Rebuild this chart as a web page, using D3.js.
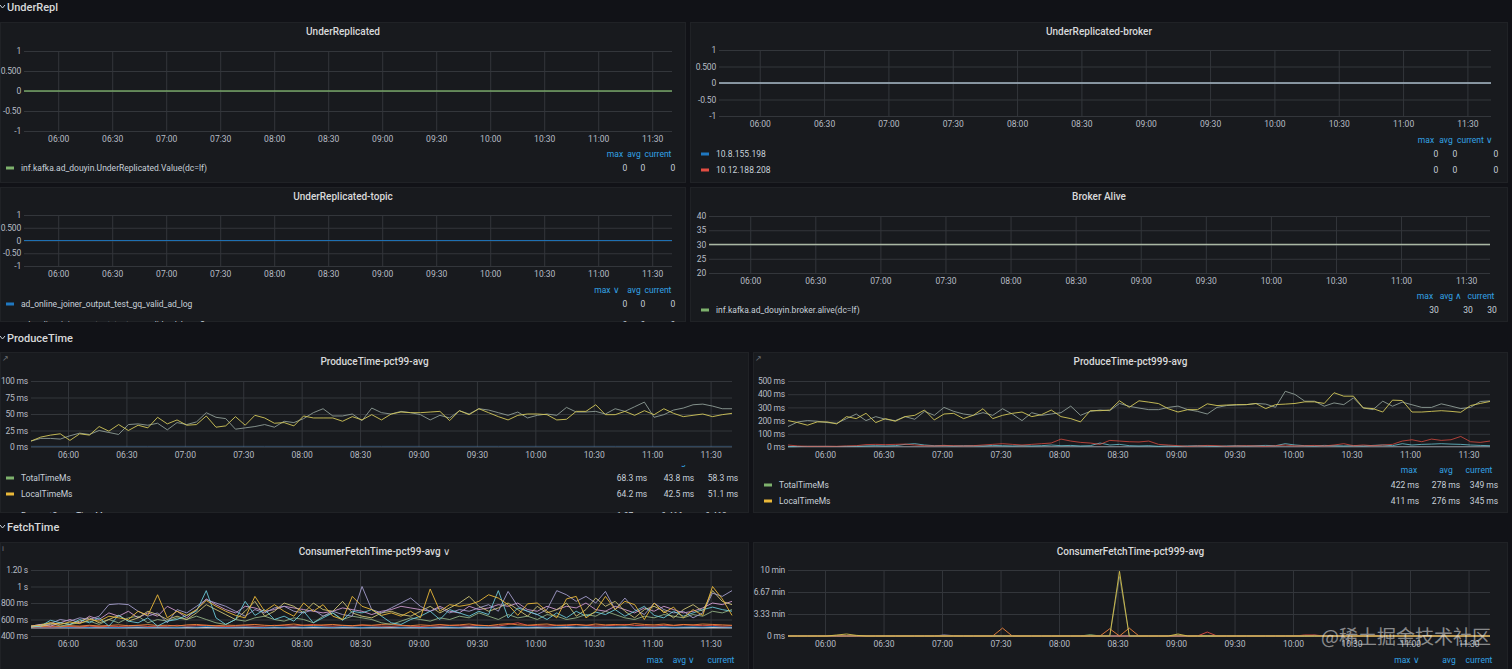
<!DOCTYPE html>
<html>
<head>
<meta charset="utf-8">
<script src="https://cdn.jsdelivr.net/npm/d3@7"></script>
<style>
	html, body { margin: 0; padding: 0; background: #111217; overflow: hidden; }
	svg { display: block; }
</style>
</head>
<body>
<div id="dash"></div>
<script>
// ---- data ----
const xTickLabels = ["06:00", "06:30", "07:00", "07:30", "08:00", "08:30", "09:00", "09:30", "10:00", "10:30", "11:00", "11:30"];
const flatTimeLabels = ["05:41", "06:41", "07:41", "08:41", "09:41", "10:41", "11:41"];

const underReplicatedValue = [0, 0, 0, 0, 0, 0, 0];
const brokerA = [0, 0, 0, 0, 0, 0, 0];
const brokerB = [0, 0, 0, 0, 0, 0, 0];
const topicValue = [0, 0, 0, 0, 0, 0, 0];
const brokerAlive = [30, 30, 30, 30, 30, 30, 30];

// ProduceTime pct99 (ms), 5 minute steps from 05:41
const p99Total = [
	9, 13, 13, 12, 17, 21, 19, 25, 22, 19,
	34, 35, 33, 36, 26, 37, 34, 38, 52, 45,
	43, 27, 29, 31, 34, 30, 39, 37, 43, 52,
	58, 47, 47, 50, 40, 59, 52, 50, 54, 52,
	49, 41, 48, 44, 55, 50, 58, 56, 52, 48,
	53, 44, 48, 50, 48, 60, 53, 53, 54, 50,
	58, 54, 61, 68, 45, 49, 56, 59, 64, 65,
	62, 58, 58];
const p99Local = [
	9, 15, 18, 20, 10, 20, 18, 31, 24, 34,
	25, 33, 29, 45, 35, 41, 33, 34, 47, 30,
	32, 46, 33, 48, 44, 36, 37, 32, 47, 44,
	44, 44, 39, 46, 41, 49, 41, 50, 53, 52,
	52, 53, 54, 40, 55, 49, 58, 52, 46, 41,
	48, 50, 50, 49, 41, 42, 54, 54, 64, 49,
	49, 54, 48, 55, 49, 58, 51, 46, 48, 50,
	46, 49, 51];
const p99Queue = [1, 1, 1, 1, 1, 1, 1];

// ProduceTime pct999 (ms)
const p999Total = [
	155, 190, 200, 195, 185, 180, 215, 250, 200, 230,
	210, 200, 230, 210, 270, 240, 300, 270, 250, 240,
	260, 240, 290, 250, 200, 260, 240, 250, 260, 310,
	240, 270, 280, 275, 330, 308, 295, 283, 283, 300,
	310, 283, 270, 250, 300, 314, 318, 321, 330, 325,
	301, 422, 398, 347, 347, 309, 334, 321, 372, 296,
	283, 347, 309, 340, 320, 300, 300, 327, 310, 291,
	300, 345, 349];
const p999Local = [
	200, 185, 165, 190, 190, 175, 230, 215, 255, 185,
	215, 195, 230, 240, 280, 205, 250, 255, 215, 240,
	290, 215, 240, 255, 265, 230, 245, 280, 230, 215,
	190, 275, 275, 280, 350, 301, 350, 340, 329, 290,
	265, 283, 283, 327, 314, 318, 321, 321, 329, 291,
	321, 325, 330, 342, 342, 330, 411, 385, 385, 296,
	291, 265, 355, 352, 265, 265, 270, 275, 270, 263,
	314, 330, 345];
const p999Queue = [
	15, 8, 5, 5, 5, 5, 8, 10, 18, 20,
	18, 20, 22, 15, 10, 8, 12, 10, 8, 10,
	15, 20, 25, 20, 15, 20, 25, 30, 60, 45,
	35, 30, 20, 50, 45, 40, 38, 45, 20, 15,
	10, 5, 8, 12, 10, 5, 8, 10, 8, 5,
	10, 15, 8, 10, 12, 8, 15, 25, 10, 15,
	10, 15, 20, 45, 55, 40, 60, 50, 55, 80,
	40, 35, 45];
const p999Remote = [
	2, 3, 5, 5, 5, 4, 5, 5, 8, 10,
	8, 10, 20, 25, 15, 10, 12, 8, 10, 10,
	8, 12, 10, 8, 10, 8, 10, 15, 10, 12,
	8, 10, 30, 15, 20, 10, 8, 10, 5, 8,
	5, 8, 10, 8, 5, 8, 10, 8, 10, 12,
	10, 25, 15, 10, 8, 12, 10, 8, 10, 8,
	12, 15, 10, 25, 15, 20, 22, 25, 22, 20,
	15, 12, 10];
const p999Other = [3, 3, 3, 3, 3, 3, 3];

// ConsumerFetchTime pct99 (ms)
const f99A = [
	520, 530, 560, 540, 570, 550, 600, 580, 640, 620,
	600, 700, 650, 900, 620, 700, 650, 720, 830, 760,
	700, 650, 620, 880, 700, 780, 700, 640, 800, 700,
	780, 640, 600, 880, 760, 720, 650, 680, 640, 700,
	620, 970, 700, 780, 760, 780, 820, 900, 860, 780,
	650, 790, 800, 700, 620, 850, 880, 620, 700, 880,
	720, 820, 780, 600, 800, 680, 750, 620, 720, 650,
	1000, 850, 650];
const f99B = [
	510, 520, 590, 560, 540, 600, 560, 620, 520, 650,
	580, 560, 620, 520, 580, 600, 650, 700, 950, 620,
	540, 600, 820, 650, 720, 600, 640, 580, 700, 560,
	620, 680, 590, 700, 680, 720, 640, 560, 540, 600,
	640, 700, 600, 720, 680, 640, 700, 660, 950, 620,
	740, 700, 660, 600, 680, 620, 700, 640, 690, 660,
	720, 640, 700, 760, 650, 620, 700, 640, 680, 720,
	750, 720, 700];
const f99C = [
	510, 530, 550, 600, 580, 620, 600, 640, 780, 790,
	780, 700, 640, 680, 560, 720, 680, 760, 840, 800,
	760, 700, 640, 720, 680, 740, 760, 700, 680, 720,
	640, 700, 660, 640, 1000, 720, 680, 740, 800, 860,
	760, 700, 740, 680, 720, 700, 740, 780, 700, 940,
	760, 700, 660, 720, 950, 900, 820, 880, 800, 940,
	720, 860, 720, 660, 800, 720, 680, 700, 620, 680,
	920, 880, 950];
const f99D = [
	520, 540, 520, 560, 600, 560, 640, 600, 680, 640,
	700, 620, 680, 640, 760, 700, 620, 720, 850, 780,
	720, 680, 760, 740, 700, 720, 760, 740, 720, 700,
	680, 700, 740, 720, 700, 660, 700, 720, 760, 740,
	720, 700, 760, 700, 680, 760, 720, 740, 780, 760,
	800, 720, 700, 760, 720, 760, 740, 800, 720, 700,
	760, 720, 680, 740, 700, 760, 720, 680, 700, 740,
	800, 780, 820];
const f99E = [
	510, 520, 540, 560, 540, 580, 620, 560, 600, 650,
	580, 620, 700, 660, 600, 640, 600, 680, 780, 720,
	660, 600, 700, 820, 640, 700, 800, 760, 680, 800,
	720, 700, 820, 680, 640, 620, 680, 700, 660, 640,
	700, 760, 680, 740, 800, 880, 760, 700, 740, 800,
	720, 640, 760, 680, 720, 800, 640, 720, 860, 760,
	820, 700, 620, 720, 760, 700, 620, 720, 780, 700,
	950, 820, 780];
const f99F = [
	520, 540, 560, 520, 540, 560, 580, 540, 600, 560,
	620, 640, 560, 600, 580, 620, 600, 640, 600, 560,
	540, 600, 580, 620, 640, 600, 580, 620, 600, 560,
	640, 680, 600, 640, 620, 600, 560, 540, 580, 620,
	600, 580, 620, 600, 640, 620, 680, 640, 600, 660,
	620, 640, 600, 660, 640, 600, 620, 660, 640, 700,
	660, 620, 600, 640, 620, 660, 640, 620, 660, 640,
	700, 680, 720];
const f99G = [
	505, 510, 508, 512, 515, 510, 520, 512, 518, 515,
	520, 525, 515, 520, 518, 530, 520, 525, 530, 520,
	515, 520, 525, 518, 520, 530, 525, 520, 530, 540,
	525, 520, 528, 522, 530, 525, 520, 518, 525, 520,
	515, 522, 520, 528, 525, 520, 530, 525, 520, 540,
	560, 530, 525, 520, 530, 525, 535, 530, 520, 525,
	530, 540, 528, 525, 520, 530, 525, 535, 530, 525,
	530, 520, 525];
const f99H = [
	512, 515, 520, 518, 525, 520, 530, 522, 528, 535,
	525, 530, 538, 528, 530, 520, 535, 540, 530, 525,
	532, 528, 535, 540, 530, 525, 535, 545, 530, 528,
	535, 540, 530, 525, 535, 530, 540, 545, 530, 525,
	535, 528, 540, 530, 535, 545, 530, 525, 540, 550,
	535, 530, 540, 545, 530, 535, 540, 530, 545, 535,
	540, 530, 550, 540, 535, 545, 530, 540, 535, 545,
	540, 535, 530];
const f99I = [
	502, 505, 503, 506, 504, 508, 505, 510, 506, 504,
	508, 512, 506, 510, 508, 505, 512, 508, 515, 510,
	506, 509, 512, 508, 505, 510, 506, 512, 508, 515,
	510, 506, 512, 509, 505, 510, 508, 512, 506, 510,
	508, 505, 512, 510, 506, 515, 510, 508, 512, 506,
	510, 508, 512, 506, 510, 515, 508, 512, 506, 510,
	508, 512, 506, 510, 508, 512, 506, 510, 512, 508,
	515, 510, 508];
const f99J = [500, 500, 500, 500, 500, 500, 500];

// ConsumerFetchTime pct999 (minutes)
const f999Yellow = [
	0, 0, 0, 0, 0, 0.15, 0.3, 0.1, 0, 0,
	0, 0, 0, 0, 0, 0, 0, 0, 0, 0,
	0, 0, 0, 0, 0, 0, 0, 0, 0, 0,
	0, 0, 0, 0, 9.8, 0, 0, 0, 0, 0,
	0.3, 0, 0, 0, 0, 0, 0, 0, 0, 0,
	0, 0, 0, 0, 0, 0, 0, 0, 0, 0,
	0, 0, 0, 0, 0, 0, 0, 0, 0, 0,
	0, 0, 0];
const f999Orange = [
	0, 0, 0, 0, 0, 0, 0, 0, 0, 0,
	0, 0, 0, 0, 0, 0, 0, 0, 0, 0,
	0, 0, 1.2, 0, 0, 0, 0, 0, 0, 0,
	0, 0, 0, 1.1, 0, 1.2, 0, 0, 0, 0,
	0, 0, 0, 0, 0, 0, 0, 0, 0, 0,
	0, 0, 0, 0, 0, 0, 0, 0, 0, 0,
	0, 0, 0, 0, 0, 0, 0, 0, 0, 0,
	0, 0, 0];
const f999Red = [
	0, 0, 0, 0, 0, 0, 0, 0, 0, 0,
	0, 0, 0, 0, 0, 0, 0, 0, 0, 0,
	0, 0, 0, 0, 0, 0, 0, 0, 0, 0,
	0, 0, 0, 0, 0, 0, 0, 0, 0, 0,
	0, 0, 0, 0.6, 0, 0, 0, 0, 0, 0,
	0, 0, 0, 0.15, 0.15, 0, 0, 0, 0, 0,
	0, 0, 0, 0, 0, 0, 0, 0, 0, 0,
	0, 0, 0];
const f999Green = [
	0, 0, 0, 0, 0, 0, 0, 0, 0, 0,
	0, 0, 0, 0, 0, 0, 0, 0, 0, 0,
	0, 0, 0, 0, 0, 0, 0, 0, 0, 0,
	0, 0.2, 0, 0, 0, 0, 0, 0, 0, 0,
	0.1, 0, 0, 0, 0, 0, 0, 0, 0, 0,
	0, 0, 0, 0, 0, 0, 0, 0, 0, 0,
	0, 0, 0, 0, 0, 0, 0, 0, 0, 0,
	0, 0, 0];
const f999Purple = [
	0, 0, 0, 0, 0, 0, 0, 0, 0, 0,
	0, 0, 0, 0, 0, 0, 0.15, 0.05, 0, 0,
	0, 0, 0, 0, 0, 0, 0, 0, 0, 0,
	0, 0, 0, 0, 0, 0, 0, 0, 0, 0,
	0, 0, 0, 0, 0, 0, 0, 0, 0, 0,
	0, 0, 0, 0, 0.1, 0, 0, 0, 0, 0,
	0, 0, 0, 0, 0, 0, 0, 0, 0, 0,
	0, 0, 0];
const f999Gray = [
	0, 0, 0, 0, 0, 0, 0, 0, 0, 0,
	0, 0, 0, 0, 0, 0, 0, 0, 0, 0,
	0, 0, 0, 0, 0, 0, 0, 0, 0, 0,
	0, 0, 0, 0, 9.0, 0, 0, 0, 0, 0,
	0, 0, 0, 0, 0, 0, 0, 0, 0, 0,
	0, 0, 0, 0, 0, 0, 0, 0, 0, 0,
	0, 0, 0, 0, 0, 0, 0, 0, 0, 0,
	0, 0, 0];
const f999Blue = [0, 0, 0, 0, 0, 0, 0];

// legend stats
const underReplStats = [["0", "0", "0"]];
const brokerStats = [["0", "0", "0"], ["0", "0", "0"]];
const topicStats = [["0", "0", "0"], ["0", "0", "0"]];
const aliveStats = [["30", "30", "30"]];
const p99Stats = [["68.3 ms", "43.8 ms", "58.3 ms"], ["64.2 ms", "42.5 ms", "51.1 ms"], ["1.07 ms", "0.416 ms", "0.413 ms"]];
const p999Stats = [["422 ms", "278 ms", "349 ms"], ["411 ms", "276 ms", "345 ms"]];

// ---- drawing ----
const W = 1512, H = 669;
const font = "Roboto, 'Noto Sans', sans-serif";
const gridColor = "#33363b";
const tickColor = "#b7bcc4";
const textColor = "#c7d0d9";
const linkColor = "#33a2e5";

const parseHM = d3.timeParse("%H:%M");
const fmtHM = d3.timeFormat("%H:%M");
const t0 = parseHM("05:41");
const times = d3.range(73).map((i) => d3.timeMinute.offset(t0, i * 5));
const flatTimes = flatTimeLabels.map(parseHM);
const xTicks = xTickLabels.map(parseHM);
const timeDomain = [parseHM("05:41"), parseHM("11:41")];

const svg = d3
	.select("#dash")
	.append("svg")
	.attr("width", W)
	.attr("height", H)
	.attr("font-family", font);

let clipCount = 0;

function rowHeader(label, y) {
	svg.append("path")
		.attr("d", `M0,${y - 2} L2.5,${y + 1} L5,${y - 2}`)
		.attr("fill", "none")
		.attr("stroke", "#c7d0d9")
		.attr("stroke-width", 1);
	svg.append("text")
		.attr("x", 7)
		.attr("y", y + 4)
		.attr("fill", "#d8d9da")
		.attr("font-size", 11)
		.attr("font-weight", 500)
		.text(label);
}

function drawPanel(p) {
	const id = "clip" + clipCount++;
	svg.append("clipPath")
		.attr("id", id)
		.append("rect")
		.attr("x", p.x)
		.attr("y", p.y)
		.attr("width", p.w)
		.attr("height", p.h);

	const g = svg.append("g").attr("clip-path", `url(#${id})`);

	g.append("rect")
		.attr("x", p.x + 0.5)
		.attr("y", p.y + 0.5)
		.attr("width", p.w - 1)
		.attr("height", p.h - 1)
		.attr("fill", "#181a1e")
		.attr("stroke", "#202226");

	g.append("text")
		.attr("x", p.x + p.w / 2)
		.attr("y", p.y + 12.5)
		.attr("text-anchor", "middle")
		.attr("fill", "#d8d9da")
		.attr("font-size", 10)
		.attr("font-weight", 500)
		.text(p.title);

	if (p.icon) {
		g.append("text")
			.attr("x", p.x + 2)
			.attr("y", p.y + 9)
			.attr("fill", "#6e7278")
			.attr("font-size", 8)
			.text(p.icon);
	}

	const x = d3.scaleTime().domain(timeDomain).range([p.l, p.r]);
	const y = d3.scaleLinear().domain(p.yDomain).range([p.b, p.t]);

	const xAxis = g
		.append("g")
		.attr("transform", `translate(0,${p.b})`)
		.call(
			d3
				.axisBottom(x)
				.tickValues(xTicks)
				.tickFormat(fmtHM)
				.tickSize(-(p.b - p.t))
				.tickPadding(5)
		);

	const yAxis = g
		.append("g")
		.attr("transform", `translate(${p.l},0)`)
		.call(
			d3
				.axisLeft(y)
				.tickValues(p.yTicks)
				.tickFormat((d, i) => p.yLabels[i])
				.tickSize(-(p.r - p.l))
				.tickPadding(3)
		);

	[xAxis, yAxis].forEach((a) => {
		a.attr("font-family", font).attr("font-size", 8.5);
		a.select(".domain").remove();
		a.selectAll(".tick line").attr("stroke", gridColor);
		a.selectAll(".tick text").attr("fill", tickColor);
	});
	yAxis.selectAll(".tick text").attr("letter-spacing", -0.2);

	const line = d3
		.line()
		.x((d) => x(d[0]))
		.y((d) => y(d[1]));

	p.series.forEach((s) => {
		const pts = s.values.map((v, i) => [s.times[i], v]);
		g.append("path")
			.datum(pts)
			.attr("d", line)
			.attr("fill", "none")
			.attr("stroke", s.color)
			.attr("stroke-width", s.width || 1)
			.attr("stroke-opacity", s.opacity || 0.9);
	});

	// legend
	const lg = g.append("g");
	if (p.legendClipTop) {
		const lid = "clip" + clipCount++;
		svg.append("clipPath")
			.attr("id", lid)
			.append("rect")
			.attr("x", p.x)
			.attr("y", p.legendClipTop)
			.attr("width", p.w)
			.attr("height", p.y + p.h - p.legendClipTop);
		lg.attr("clip-path", `url(#${lid})`);
	}

	p.header.items.forEach((h) => {
		lg.append("text")
			.attr("x", h[1])
			.attr("y", p.header.y + 3)
			.attr("text-anchor", "middle")
			.attr("fill", linkColor)
			.attr("font-size", 8.5)
			.text(h[0]);
	});

	p.rows.forEach((r, ri) => {
		lg.append("rect")
			.attr("x", p.swatchX)
			.attr("y", r.y - 1.5)
			.attr("width", 8)
			.attr("height", 3)
			.attr("fill", r.color);
		lg.append("text")
			.attr("x", p.swatchX + 15)
			.attr("y", r.y + 3)
			.attr("fill", textColor)
			.attr("font-size", 8.5)
			.text(r.name);
		p.stats[ri].forEach((v, vi) => {
			lg.append("text")
				.attr("x", p.valueX[vi])
				.attr("y", r.y + 3)
				.attr("text-anchor", "middle")
				.attr("fill", textColor)
				.attr("font-size", 8.5)
				.text(v);
		});
	});
}

const green = "#7EB26D", yellow = "#EAB839", lightBlue = "#6ED0E0", orange = "#EF843C",
	red = "#E24D42", blue = "#1F78C1", lavender = "#A39CCB", pink = "#E5A8E2", khaki = "#D7CD7A";

rowHeader("UnderRepl", 7);
rowHeader("ProduceTime", 338);
rowHeader("FetchTime", 527);

const unitTicks = [-1, -0.5, 0, 0.5, 1];
const unitLabels = ["-1", "-0.50", "0", "0.500", "1"];

drawPanel({
	x: 0, y: 22, w: 686, h: 161, title: "UnderReplicated",
	l: 24, r: 672, t: 51, b: 131,
	yDomain: [-1, 1], yTicks: unitTicks, yLabels: unitLabels,
	series: [{ times: flatTimes, values: underReplicatedValue, color: green, width: 1.5 }],
	header: { y: 154, items: [["max", 615], ["avg", 634], ["current", 658]] },
	swatchX: 6, valueX: [625, 643, 673],
	rows: [{ name: "inf.kafka.ad_douyin.UnderReplicated.Value(dc=lf)", color: green, y: 168 }],
	stats: underReplStats,
});

drawPanel({
	x: 690, y: 22, w: 818, h: 161, title: "UnderReplicated-broker",
	l: 719, r: 1491, t: 50, b: 116,
	yDomain: [-1, 1], yTicks: unitTicks, yLabels: unitLabels,
	series: [
		{ times: flatTimes, values: brokerA, color: blue },
		{ times: flatTimes, values: brokerB, color: "#b8b8b8", width: 1.5 },
	],
	header: { y: 140, items: [["max", 1426], ["avg", 1446], ["current ∨", 1475]] },
	swatchX: 701, valueX: [1436, 1455, 1496],
	rows: [
		{ name: "10.8.155.198", color: blue, y: 154 },
		{ name: "10.12.188.208", color: red, y: 170 },
	],
	stats: brokerStats,
});

drawPanel({
	x: 0, y: 187, w: 686, h: 135, title: "UnderReplicated-topic",
	l: 24, r: 672, t: 215, b: 266,
	yDomain: [-1, 1], yTicks: unitTicks, yLabels: unitLabels,
	series: [{ times: flatTimes, values: topicValue, color: blue, width: 1.2 }],
	header: { y: 290, items: [["max ∨", 607], ["avg", 634], ["current", 658]] },
	swatchX: 6, valueX: [625, 643, 673],
	rows: [
		{ name: "ad_online_joiner_output_test_gq_valid_ad_log", color: blue, y: 304 },
		{ name: "ad_online_joiner_output_test_gq_valid_ad_log_v2", color: yellow, y: 324.5 },
	],
	stats: topicStats,
});

drawPanel({
	x: 690, y: 187, w: 818, h: 135, title: "Broker Alive",
	l: 709, r: 1490, t: 216, b: 273,
	yDomain: [20, 40], yTicks: [20, 25, 30, 35, 40], yLabels: ["20", "25", "30", "35", "40"],
	series: [{ times: flatTimes, values: brokerAlive, color: "#b9c7b0", width: 1.3 }],
	header: { y: 296, items: [["max", 1425], ["avg ∧", 1451], ["current", 1481]] },
	swatchX: 701, valueX: [1434, 1468, 1492],
	rows: [{ name: "inf.kafka.ad_douyin.broker.alive(dc=lf)", color: green, y: 310 }],
	stats: aliveStats,
});

drawPanel({
	x: 0, y: 352, w: 749, h: 161, title: "ProduceTime-pct99-avg", icon: "↗",
	l: 31, r: 732, t: 381, b: 447,
	yDomain: [0, 100], yTicks: [0, 25, 50, 75, 100], yLabels: ["0 ms", "25 ms", "50 ms", "75 ms", "100 ms"],
	series: [
		{ times: flatTimes, values: p99Queue, color: "#4a7299", opacity: 0.6 },
		{ times: times, values: p99Total, color: "#8e9c96" },
		{ times: times, values: p99Local, color: "#d3c85a" },
	],
	legendClipTop: 465,
	header: { y: 462, items: [["max", 632], ["avg", 679], ["current", 723]] },
	swatchX: 6, valueX: [632, 679, 723],
	rows: [
		{ name: "TotalTimeMs", color: green, y: 478 },
		{ name: "LocalTimeMs", color: yellow, y: 494 },
		{ name: "RequestQueueTimeMs", color: lightBlue, y: 516 },
	],
	stats: p99Stats,
});

drawPanel({
	x: 753, y: 352, w: 755, h: 161, title: "ProduceTime-pct999-avg", icon: "↗",
	l: 788, r: 1490, t: 381, b: 447,
	yDomain: [0, 500], yTicks: [0, 100, 200, 300, 400, 500],
	yLabels: ["0 ms", "100 ms", "200 ms", "300 ms", "400 ms", "500 ms"],
	series: [
		{ times: flatTimes, values: p999Other, color: "#8a8f96" },
		{ times: times, values: p999Remote, color: lightBlue, opacity: 0.75 },
		{ times: times, values: p999Queue, color: red, opacity: 0.75 },
		{ times: times, values: p999Total, color: "#8e9c96" },
		{ times: times, values: p999Local, color: "#d3c85a" },
	],
	header: { y: 470, items: [["max", 1409], ["avg", 1446], ["current", 1479]] },
	swatchX: 764, valueX: [1405, 1446, 1484],
	rows: [
		{ name: "TotalTimeMs", color: green, y: 485 },
		{ name: "LocalTimeMs", color: yellow, y: 501 },
	],
	stats: p999Stats,
});

drawPanel({
	x: 0, y: 542, w: 749, h: 130, title: "ConsumerFetchTime-pct99-avg ∨", icon: "i",
	l: 31, r: 732, t: 570, b: 636,
	yDomain: [400, 1200], yTicks: [400, 600, 800, 1000, 1200],
	yLabels: ["400 ms", "600 ms", "800 ms", "1 s", "1.20 s"],
	series: [
		{ times: flatTimes, values: f99J, color: "#d8d9da", width: 1.5 },
		{ times: times, values: f99I, color: blue },
		{ times: times, values: f99G, color: red },
		{ times: times, values: f99H, color: orange },
		{ times: times, values: f99F, color: "#9fc08f", opacity: 0.8 },
		{ times: times, values: f99D, color: pink, opacity: 0.8 },
		{ times: times, values: f99E, color: khaki, opacity: 0.85 },
		{ times: times, values: f99C, color: lavender },
		{ times: times, values: f99B, color: lightBlue, opacity: 0.85 },
		{ times: times, values: f99A, color: yellow, opacity: 0.9 },
	],
	header: { y: 660, items: [["max", 655], ["avg ∨", 684], ["current", 721]] },
	swatchX: 6, valueX: [655, 684, 721],
	rows: [],
	stats: [],
});

drawPanel({
	x: 753, y: 542, w: 755, h: 130, title: "ConsumerFetchTime-pct999-avg",
	l: 788, r: 1490, t: 570, b: 636,
	yDomain: [0, 10], yTicks: [0, 10 / 3, 20 / 3, 10],
	yLabels: ["0 ms", "3.33 min", "6.67 min", "10 min"],
	series: [
		{ times: flatTimes, values: f999Blue, color: blue, width: 1.5 },
		{ times: times, values: f999Purple, color: lavender },
		{ times: times, values: f999Green, color: green },
		{ times: times, values: f999Red, color: red },
		{ times: times, values: f999Orange, color: orange },
		{ times: times, values: f999Gray, color: "#7d8a7a", opacity: 0.7 },
		{ times: times, values: f999Yellow, color: "#d6c24a" },
	],
	header: { y: 660, items: [["max ∨", 1407], ["avg", 1449], ["current", 1479]] },
	swatchX: 764, valueX: [1405, 1446, 1484],
	rows: [],
	stats: [],
});

// site watermark, drawn over the axis as in the screenshot
svg.append("text")
	.attr("x", 1491)
	.attr("y", 644)
	.attr("text-anchor", "end")
	.attr("font-family", "'Noto Sans CJK SC', sans-serif")
	.attr("font-size", 19)
	.attr("fill", "rgba(235,235,235,0.55)")
	.text("@稀土掘金技术社区");
</script>
</body>
</html>
